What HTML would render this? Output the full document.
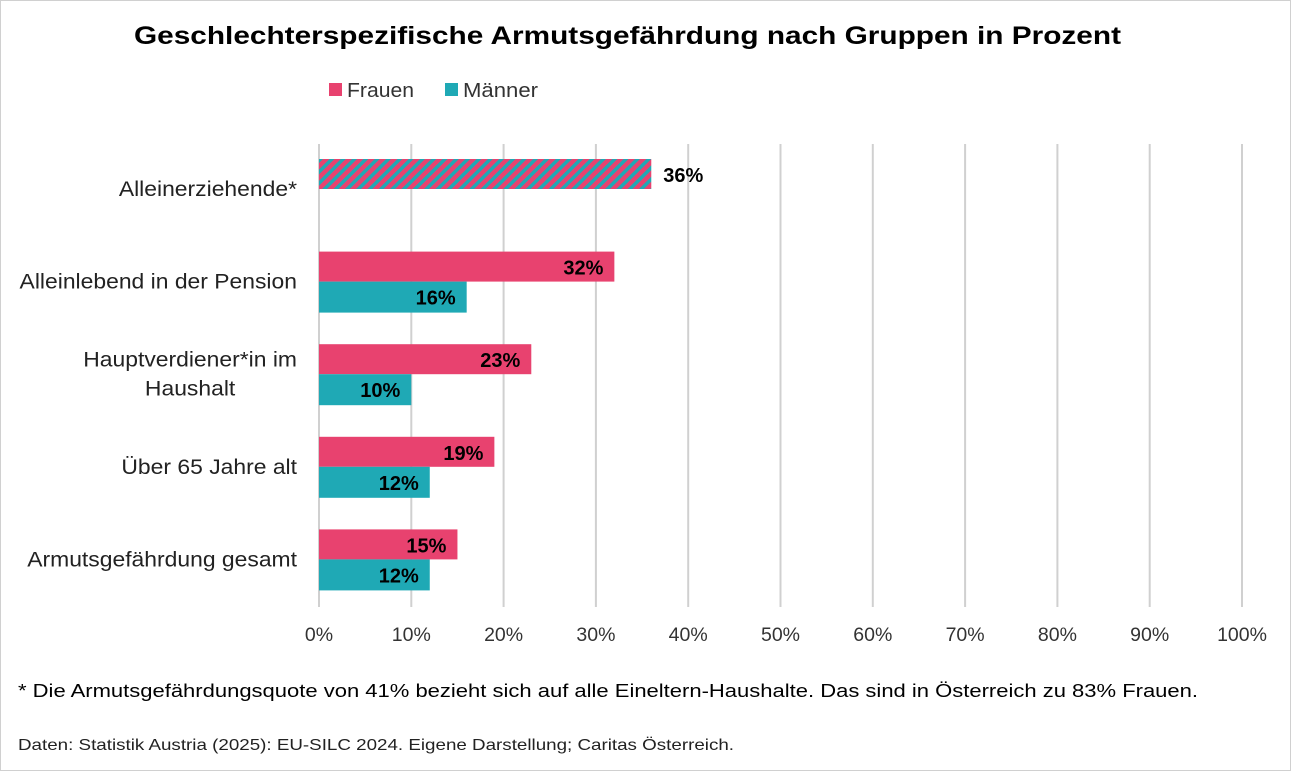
<!DOCTYPE html>
<html><head><meta charset="utf-8"><style>
body{margin:0;background:#fff;font-family:"Liberation Sans",Arial,sans-serif}
#c{position:relative;width:1291px;height:771px;box-sizing:border-box;border:1px solid #d0d0d0}
</style></head><body>
<div id="c">
<svg id="s" width="1289" height="769" style="position:absolute;left:0;top:0">
<defs><pattern id="hatch" width="8" height="8" patternUnits="userSpaceOnUse" patternTransform="rotate(45)"><rect width="8" height="8" fill="#e8426f"/><rect width="3.5" height="8" fill="#1fa9b5"/></pattern></defs>
<text class="st" data-w="987" x="133" y="43" font-size="25" font-weight="bold" fill="#000">Geschlechterspezifische  Armutsgefährdung  nach Gruppen  in Prozent</text>
<g>
<rect x="328" y="82" width="13" height="13" fill="#e8426f"/>
<text class="st" data-w="67" x="346" y="96" font-size="20" fill="#333">Frauen</text>
<rect x="444" y="82" width="13" height="13" fill="#1fa9b5"/>
<text class="st" data-w="75" x="462" y="96" font-size="20" fill="#333">Männer</text>
</g>
<g id="grid"></g><g id="bars"></g>
<text class="st" data-w="1180" x="17" y="696" font-size="18" fill="#000">* Die Armutsgefährdungsquote  von 41% bezieht sich auf alle Eineltern-Haushalte. Das sind in Österreich zu 83% Frauen.</text>
<text class="st" data-w="716" x="17" y="749" font-size="16" fill="#222">Daten: Statistik Austria (2025): EU-SILC 2024. Eigene Darstellung; Caritas Österreich.</text>
</svg></div>
<script>
const categories=[["Alleinerziehende*"],["Alleinlebend in der Pension"],["Hauptverdiener*in im","Haushalt"],["Über 65 Jahre alt"],["Armutsgefährdung gesamt"]];
const frauen=[36,32,23,19,15];
const maenner=[null,16,10,12,12];
const ticks=[0,10,20,30,40,50,60,70,80,90,100];
const NS="http://www.w3.org/2000/svg";
const X0=318,X1=1241,Y0=188,STEP=92.6,BH=30,SCALE=1.09;
const x=v=>X0+(X1-X0)*v/100;
const yc=i=>Y0+i*STEP;
function mk(t,a,p){const e=document.createElementNS(NS,t);for(const k in a)e.setAttribute(k,a[k]);p.appendChild(e);return e;}
document.querySelectorAll('.st').forEach(t=>{t.setAttribute('textLength',t.dataset.w);t.setAttribute('lengthAdjust','spacingAndGlyphs');});
const grid=document.getElementById('grid'),bars=document.getElementById('bars');
ticks.forEach(t=>{
const l=mk('line',{x1:x(t),x2:x(t),y1:143,y2:606,stroke:'#d0d0d0','stroke-width':2},grid);


const tx=mk('text',{x:x(t),y:640,'text-anchor':'middle','font-size':19.5,fill:'#333'},grid);
tx.textContent=t+'%';


});
categories.forEach((c,i)=>{
const cy=yc(i);
const lab=mk('g',{},bars);


let firstW=0;
c.forEach((ln,j)=>{
const ty=cy+7+(j-(c.length-1)/2)*29;
const ts=mk('text',{y:ty,'font-size':21,fill:'#222'},lab);
ts.textContent=ln;
const w=ts.getComputedTextLength()*SCALE;
if(j===0){firstW=w;ts.setAttribute('x',296-w);}
else{ts.setAttribute('x',296-firstW/2-w/2);}
ts.setAttribute('textLength',w);ts.setAttribute('lengthAdjust','spacingAndGlyphs');
});
const single=maenner[i]==null;
const fy=cy-BH;
const r=mk('rect',{x:X0,y:fy,width:x(frauen[i])-X0,height:BH,fill:single?'url(#hatch)':'#e8426f'},bars);


const ft=mk('text',{x:single?x(frauen[i])+12:x(frauen[i])-11,y:fy+23,'text-anchor':single?'start':'end','font-size':20,'font-weight':'bold',fill:'#000'},bars);
ft.textContent=frauen[i]+'%';


if(!single){
const m=mk('rect',{x:X0,y:cy,width:x(maenner[i])-X0,height:BH+1,fill:'#1fa9b5'},bars);


const mt=mk('text',{x:x(maenner[i])-11,y:cy+23,'text-anchor':'end','font-size':20,'font-weight':'bold',fill:'#000'},bars);
mt.textContent=maenner[i]+'%';


}
});
</script>
</body></html>
